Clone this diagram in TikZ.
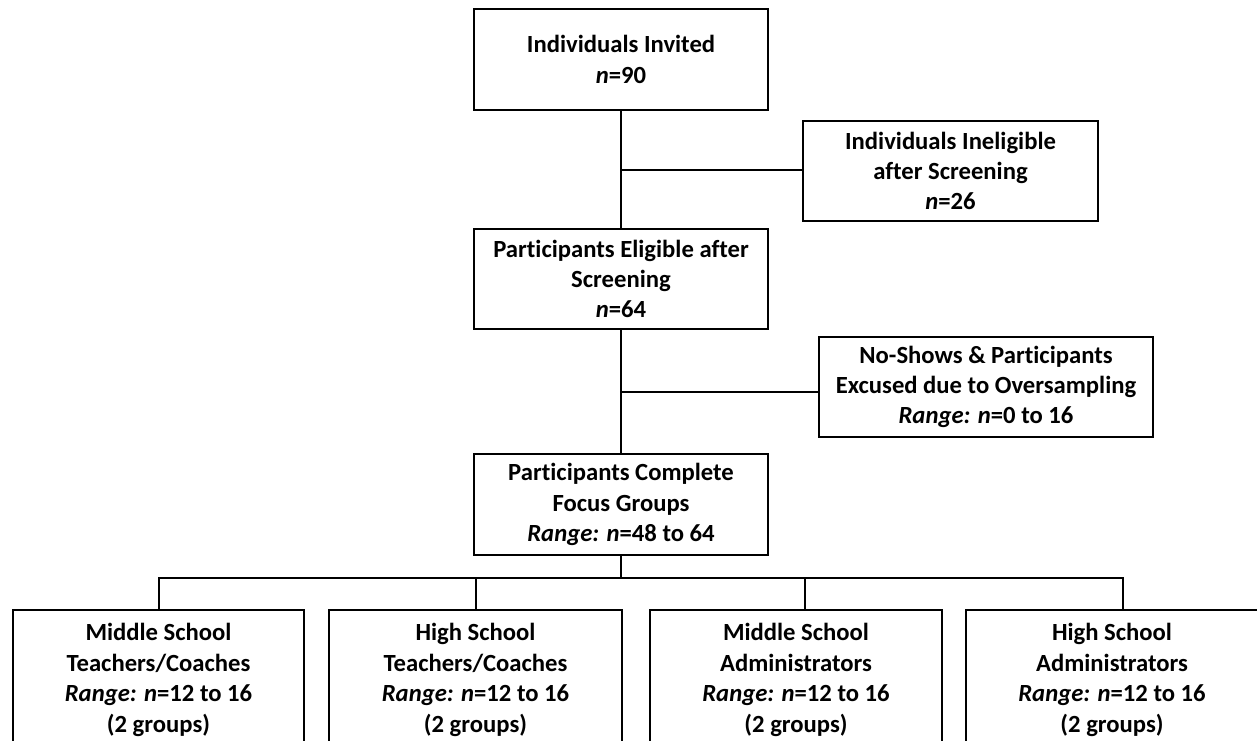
\documentclass[tikz,border=0pt]{standalone}
\usepackage{fontspec}
\setmainfont{Carlito}[Ligatures=NoCommon]
\usetikzlibrary{positioning, calc}

\begin{document}
\begin{tikzpicture}[x=0.75pt, y=-0.75pt, font=\fontsize{18.5}{22.8}\selectfont\bfseries,
    box/.style={draw, line width=1.5pt, align=center, inner sep=2pt},
    groupbox/.style={box, minimum width=219pt, minimum height=105pt},
    link/.style={draw, line width=1.5pt}]
    \clip (0,0) rectangle (1257,740);
    \node[box, minimum width=220.5pt, minimum height=75.75pt] (invited) at (621,59.5) {
        Individuals Invited\\
        \textit{n}=90
    };
    \node[box, minimum width=221.25pt, minimum height=75pt] (inelig) at (950.5,171) {
        Individuals Ineligible\\
        after Screening\\
        \textit{n}=26
    };
    \node[box, minimum width=220.5pt, minimum height=75pt] (eligible) at (621,279) {
        Participants Eligible after\\
        Screening\\
        \textit{n}=64
    };
    \node[box, minimum width=250.5pt, minimum height=75pt] (noshow) at (986,387) {
        No-Shows \& Participants\\
        Excused due to Oversampling\\
        \textit{Range:} \textit{n}=0 to 16
    };
    \node[box, minimum width=220.5pt, minimum height=75.75pt] (complete) at (621,504.5) {
        Participants Complete\\
        Focus Groups\\
        \textit{Range:} \textit{n}=48 to 64
    };
    \node[groupbox, minimum width=218.25pt] (teachms) at (158.5,680) {
        Middle School\\
        Teachers/Coaches\\
        \textit{Range:} \textit{n}=12 to 16\\
        (2 groups)
    };
    \node[groupbox, minimum width=219.75pt] (teachhs) at (475.5,680) {
        High School\\
        Teachers/Coaches\\
        \textit{Range:} \textit{n}=12 to 16\\
        (2 groups)
    };
    \node[groupbox] (adminms) at (796,680) {
        Middle School\\
        Administrators\\
        \textit{Range:} \textit{n}=12 to 16\\
        (2 groups)
    };
    \node[groupbox] (adminhs) at (1112,680) {
        High School\\
        Administrators\\
        \textit{Range:} \textit{n}=12 to 16\\
        (2 groups)
    };
    \coordinate (split1) at ($(invited.south)!0.5!(eligible.north)$);
    \coordinate (split2) at ($(eligible.south)!0.5!(complete.north)$);
    \coordinate (bus) at ($(complete.south)+(0,22)$);
    \draw[link] (invited.south) -- (eligible.north);
    \draw[link] (split1) -- (split1 -| inelig.west);
    \draw[link] (eligible.south) -- (complete.north);
    \draw[link] (split2) -- (split2 -| noshow.west);
    \draw[link] (complete.south) -- (bus);
    \draw[link] (teachms.north) |- (bus) -| ([xshift=8.25pt]adminhs.north);
    \draw[link] (teachhs.north) -- (teachhs.north |- bus);
    \draw[link] ([xshift=6.75pt]adminms.north) -- ([xshift=6.75pt]adminms.north |- bus);
\end{tikzpicture}
\end{document}
